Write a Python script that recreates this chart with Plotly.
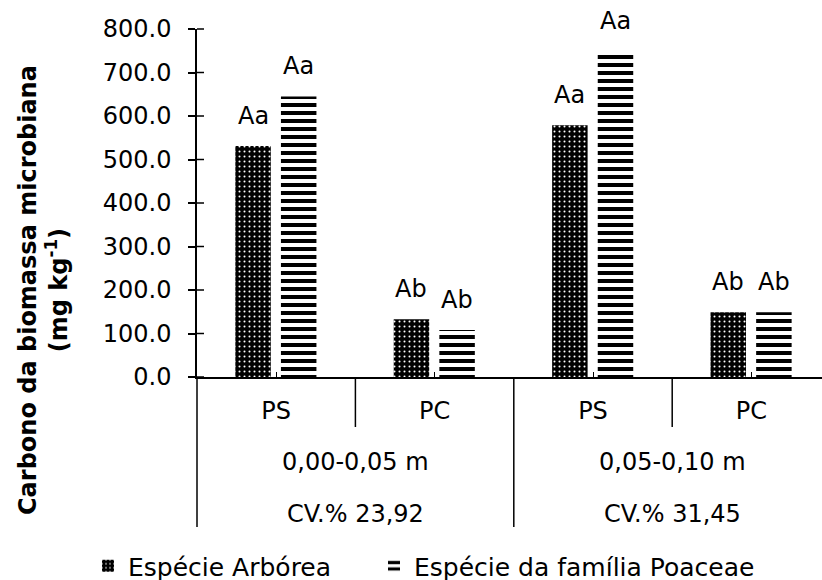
import plotly.graph_objects as go

# ---------------- data ----------------
categories = ["PS", "PC", "PS", "PC"]
cat_group = [0, 0, 1, 1]
groups = ["0,00-0,05 m", "0,05-0,10 m"]
cv_labels = ["CV.% 23,92", "CV.% 31,45"]
series_names = ["Espécie Arbórea", "Espécie da família Poaceae"]
arborea = [531, 133, 579, 149]
poaceae = [645, 108, 749, 149]
letters_arborea = ["Aa", "Ab", "Aa", "Ab"]
letters_poaceae = ["Aa", "Ab", "Aa", "Ab"]
y_ticks = [0, 100, 200, 300, 400, 500, 600, 700, 800]

# ---------------- style / layout constants ----------------
FONT = "DejaVu Sans"
W, H = 822, 580
ML, MR, MT, MB = 197, 0, 29, 203
PW, PH = W - ML - MR, H - MT - MB
CAT_PX = 158.4
X_RANGE = [-0.5, -0.5 + PW / CAT_PX]
Y_RANGE = [0, 800]
BAR_W = 0.224
OFFSETS = [-0.258, 0.030]

xpos = list(range(len(categories)))


def xdom(v):
    return (v - X_RANGE[0]) / (X_RANGE[1] - X_RANGE[0])


def ydom(v):
    return (v - Y_RANGE[0]) / (Y_RANGE[1] - Y_RANGE[0])


fig = go.Figure()
fig.add_trace(go.Bar(
    name=series_names[0], x=xpos, y=arborea, width=BAR_W, offset=OFFSETS[0],
    legend="legend",
    marker=dict(color="black", line=dict(width=0),
                pattern=dict(shape=".", fgcolor="white", bgcolor="black",
                             size=5, solidity=0.13, fillmode="replace")),
))
fig.add_trace(go.Bar(
    name=series_names[1], x=xpos, y=poaceae, width=BAR_W, offset=OFFSETS[1],
    legend="legend2",
    marker=dict(color="black", line=dict(width=0),
                pattern=dict(shape="-", fgcolor="black", bgcolor="white",
                             size=8, solidity=0.5, fillmode="replace")),
))

annotations = []
# letters above bars
for vals, labs, off in [(arborea, letters_arborea, OFFSETS[0]),
                        (poaceae, letters_poaceae, OFFSETS[1])]:
    for i, (v, t) in enumerate(zip(vals, labs)):
        annotations.append(dict(x=i + off + BAR_W / 2, y=v, xref="x", yref="y",
                                text=t, showarrow=False, yanchor="bottom",
                                yshift=14, font=dict(size=24, family=FONT, color="black")))
# group labels and CV labels
for g, (gname, cv) in enumerate(zip(groups, cv_labels)):
    idx = [i for i, cg in enumerate(cat_group) if cg == g]
    xc = sum(idx) / len(idx)
    annotations.append(dict(x=xc, y=0, xref="x", yref="paper", text=gname,
                            showarrow=False, yanchor="middle", yshift=-85,
                            font=dict(size=24, family=FONT, color="black")))
    annotations.append(dict(x=xc, y=0, xref="x", yref="paper", text=cv,
                            showarrow=False, yanchor="middle", yshift=-137,
                            font=dict(size=24, family=FONT, color="black")))
# y-axis title
annotations.append(dict(
    x=(43 - ML) / PW, y=(MT + PH - 290) / PH, xref="paper", yref="paper", textangle=-90,
    text="<b>Carbono da biomassa microbiana</b><br><b>(mg kg<sup>-1</sup>)</b>",
    showarrow=False, xanchor="center", yanchor="middle",
    font=dict(size=24, family=FONT, color="black")))

shapes = []
# inner half of the y tick marks (outer half drawn by the axis itself)
for v in y_ticks:
    shapes.append(dict(type="line", xref="x domain", yref="y domain",
                       x0=0, x1=7 / PW, y0=ydom(v), y1=ydom(v),
                       line=dict(color="black", width=1.5)))
# category dividers below the x axis
n = len(categories)
for b in range(n + 1):
    left, right = b - 1, b
    long_line = (b == 0 or b == n or cat_group[left] != cat_group[right])
    length = 150 if long_line else 50
    shapes.append(dict(type="line", xref="x domain", yref="y domain",
                       x0=xdom(b - 0.5), x1=xdom(b - 0.5), y0=0, y1=-length / PH,
                       line=dict(color="black", width=1.5)))

legend_common = dict(orientation="h", xref="container", yref="container",
                     xanchor="left", yanchor="middle", y=(H - 566) / H,
                     font=dict(size=25, family=FONT, color="black"),
                     bgcolor="rgba(0,0,0,0)", borderwidth=0)

fig.update_layout(
    width=W, height=H,
    margin=dict(l=ML, r=MR, t=MT, b=MB, autoexpand=False),
    paper_bgcolor="white", plot_bgcolor="white",
    font=dict(family=FONT, size=24, color="black"),
    barmode="overlay",
    showlegend=True,
    legend=dict(x=88 / W, **legend_common),
    legend2=dict(x=374 / W, **legend_common),
    xaxis=dict(range=X_RANGE, tickmode="array", tickvals=xpos,
               ticktext=categories, showline=True, linecolor="black", linewidth=1.5,
               ticks="inside", ticklen=5, tickwidth=1, tickcolor="black",
               ticklabelstandoff=11, showgrid=False, zeroline=False,
               tickfont=dict(size=24, family=FONT, color="black")),
    yaxis=dict(range=Y_RANGE, tickmode="array", tickvals=y_ticks,
               tickformat=".1f", showline=True, linecolor="black", linewidth=1.5,
               ticks="outside", ticklen=7, tickwidth=1.5, tickcolor="black",
               showgrid=False, zeroline=False, ticklabelstandoff=12,
               tickfont=dict(size=24, family=FONT, color="black")),
    annotations=annotations,
    shapes=shapes,
)

fig.write_html("out.html")
